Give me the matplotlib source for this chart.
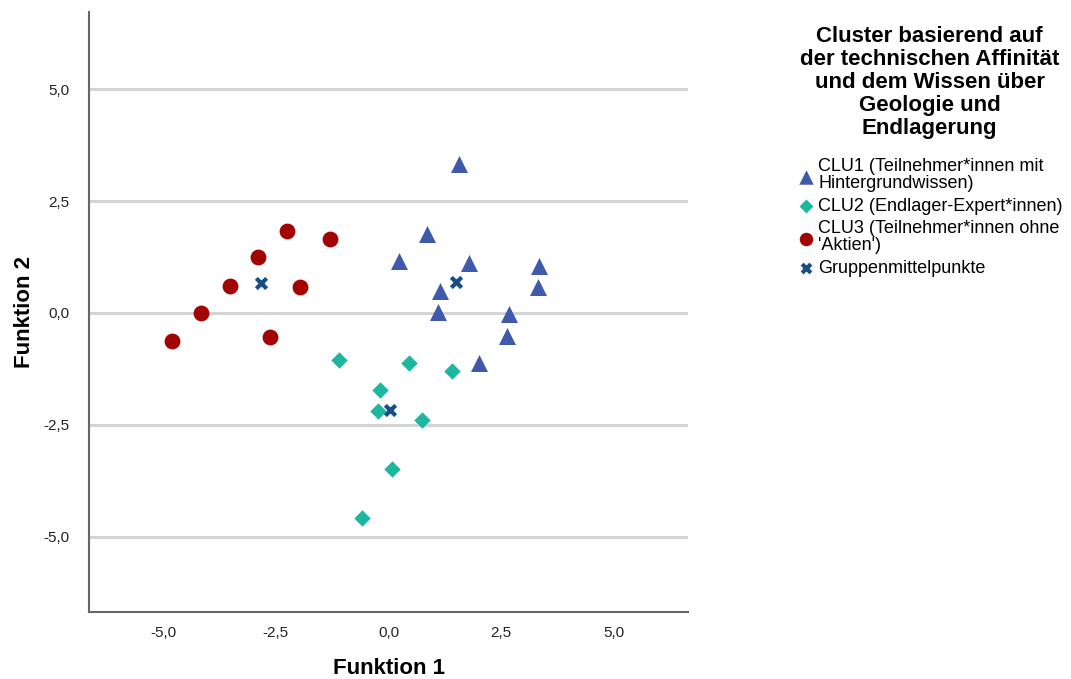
import numpy as np
import matplotlib.pyplot as plt
from matplotlib.ticker import FuncFormatter, FixedLocator

plt.rcParams['font.family'] = ['Liberation Sans', 'DejaVu Sans']

# discriminant scores
clu1_x = [1.57, 0.86, 0.23, 1.79, 3.35, 1.15, 3.31, 1.11, 2.68, 2.64, 2.01]
clu1_y = [3.34, 1.77, 1.17, 1.11, 1.06, 0.50, 0.59, 0.03, -0.02, -0.51, -1.12]
clu2_x = [-1.10, 0.45, 1.41, -0.19, -0.23, 0.74, 0.08, -0.59]
clu2_y = [-1.05, -1.11, -1.29, -1.72, -2.20, -2.38, -3.48, -4.57]
clu3_x = [-4.80, -4.16, -3.53, -2.90, -2.26, -1.30, -1.97, -2.64]
clu3_y = [-0.62, 0.00, 0.61, 1.24, 1.84, 1.66, 0.57, -0.53]
cent_x = [1.50, 0.04, -2.84]
cent_y = [0.69, -2.17, 0.66]

labels = ["CLU1 (Teilnehmer*innen mit\nHintergrundwissen)",
          "CLU2 (Endlager-Expert*innen)",
          "CLU3 (Teilnehmer*innen ohne\n'Aktien')",
          "Gruppenmittelpunkte"]
legend_title = ("Cluster basierend auf\nder technischen Affinität\n"
                "und dem Wissen über\nGeologie und\nEndlagerung")
ticks = [-5.0, -2.5, 0.0, 2.5, 5.0]

fig = plt.figure(figsize=(10.71, 6.79), dpi=100)
ax = fig.add_axes([0.0831, 0.0987, 0.5593, 0.8833])

ax.scatter(clu1_x, clu1_y, marker='^', s=150, color='#3F5AAB', zorder=3, label=labels[0], linewidths=0)
ax.scatter(clu2_x, clu2_y, marker='D', s=70, color='#1DB7A0', zorder=3, label=labels[1], linewidths=0)
ax.scatter(clu3_x, clu3_y, marker='o', s=130, color='#A20404', zorder=3, label=labels[2], linewidths=0)
ax.scatter(cent_x, cent_y, marker='x', s=55, color='#174E85', zorder=4, label=labels[3], linewidths=3)

ax.set_xlim(-6.65, 6.65)
ax.set_ylim(-6.68, 6.72)
ax.xaxis.set_major_locator(FixedLocator(ticks))
ax.yaxis.set_major_locator(FixedLocator(ticks))
fmt = FuncFormatter(lambda v, p: f"{v:.1f}".replace('.', ','))
ax.xaxis.set_major_formatter(fmt)
ax.yaxis.set_major_formatter(fmt)
ax.tick_params(length=0, labelsize=11, colors='#222222')
ax.tick_params(axis='y', pad=14)
ax.tick_params(axis='x', pad=10)

ax.grid(True, axis='y', color='#d4d4d4', linewidth=2.2)
ax.set_axisbelow(True)
for s in ['top', 'right']:
    ax.spines[s].set_visible(False)
for s in ['left', 'bottom']:
    ax.spines[s].set_color('#666666')
    ax.spines[s].set_linewidth(1.5)

ax.set_xlabel('Funktion 1', fontsize=16, fontweight='bold', labelpad=13)
ax.set_ylabel('Funktion 2', fontsize=16, fontweight='bold', labelpad=6)

leg = fig.legend(loc='upper center', bbox_to_anchor=(0.868, 0.972), frameon=False,
                 title=legend_title, fontsize=13, handletextpad=0.2,
                 labelspacing=0.3, handlelength=1.0, borderaxespad=0,
                 alignment='center', markerscale=0.85)
leg.get_title().set_fontsize(16)
leg.get_title().set_fontweight('bold')
leg.get_title().set_multialignment('center')
leg.get_title().set_linespacing(1.12)
for t in leg.get_texts():
    t.set_linespacing(1.0)
leg._legend_box.sep = 14

fig.savefig('out.png', dpi=100, facecolor='white')
